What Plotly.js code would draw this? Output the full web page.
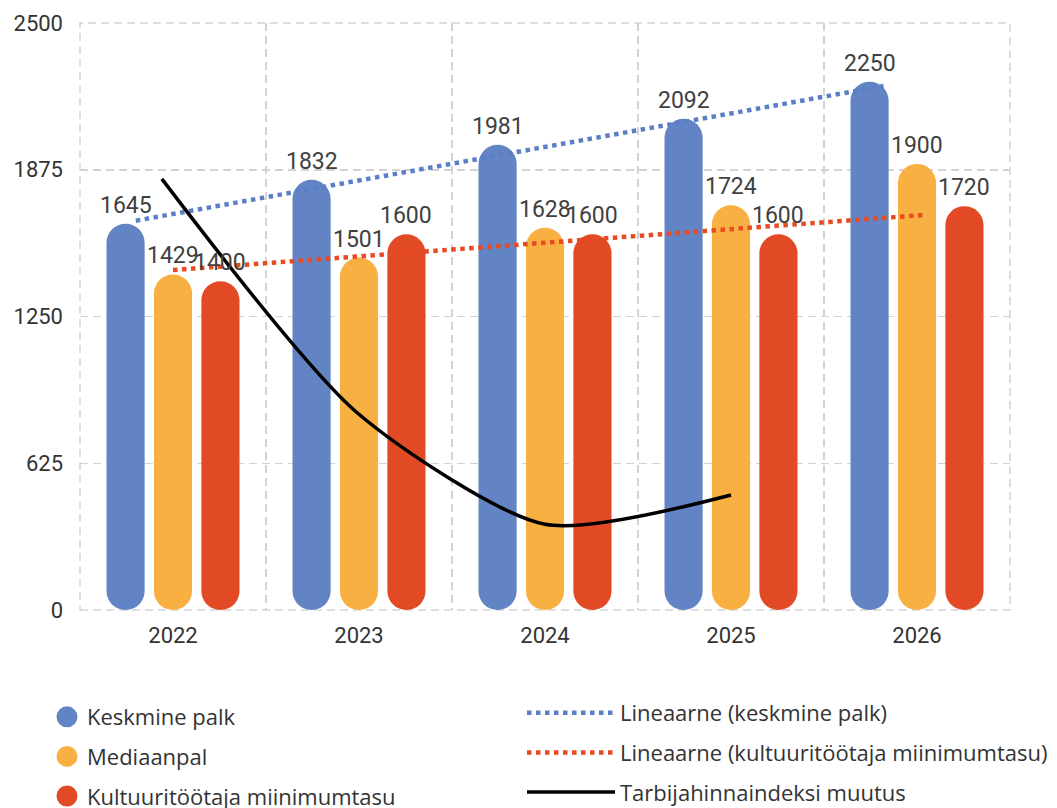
<!DOCTYPE html>
<html>
<head>
<meta charset="utf-8">
<script src="https://cdn.plot.ly/plotly-3.0.1.min.js"></script>
<style>html,body{margin:0;padding:0;background:#fff;}#chart{width:1057px;height:808px;}</style>
</head>
<body>
<div id="chart"></div>
<script>
// ---- data ----
const years = ['2022', '2023', '2024', '2025', '2026'];
const keskmine = [1645, 1832, 1981, 2092, 2250];
const mediaan = [1429, 1501, 1628, 1724, 1900];
const kultuur = [1400, 1600, 1600, 1600, 1720];
// consumer price index change line (same scale)
const cpiPos = [-0.06, 0.99, 2.0, 3.0];
const cpi = [1836, 840, 365, 490];
// linear trend lines (end points)
const trendKPos = [-0.2, 3.82];
const trendK = [1658, 2232];
const trendRPos = [0.0, 4.03];
const trendR = [1448, 1682];
const yTicks = [0, 625, 1250, 1875, 2500];

// ---- style ----
const cBlue = '#6384C4', cYellow = '#F9B042', cRed = '#E24A26';
const barW = 0.205;
const centers = [-0.255, 0, 0.255];
const xIdx = years.map((_, i) => i);
const labelFont = {family: 'Roboto', size: 23, color: '#404040'};

const traces = [];
const annotations = [];
const series = [
  {name: 'Keskmine palk', vals: keskmine, color: cBlue, c: centers[0], g: 'k'},
  {name: 'Mediaanpal', vals: mediaan, color: cYellow, c: centers[1], g: 'm'},
  {name: 'Kultuuritöötaja miinimumtasu', vals: kultuur, color: cRed, c: centers[2], g: 'r'}
];
series.forEach(s => {
  // pill-shaped bar: explicit base makes Plotly round both ends
  traces.push({
    type: 'bar', x: xIdx, base: s.vals.map(() => 0), y: s.vals,
    width: barW, offset: s.c - barW / 2, marker: {color: s.color, cornerradius: '50%', line: {width: 0}},
    legendgroup: s.g, showlegend: false, hoverinfo: 'skip'
  });
  s.vals.forEach((v, i) => annotations.push({
    x: i + s.c, y: v, xref: 'x', yref: 'y', text: String(v), showarrow: false,
    yanchor: 'bottom', xanchor: 'center', yshift: 3, font: labelFont
  }));
});

// legend entries for the bar series (circles)
series.forEach(s => traces.push({
  type: 'scatter', mode: 'markers', x: [null], y: [null], name: s.name, legendgroup: s.g,
  marker: {color: s.color, size: 16, symbol: 'circle', line: {color: s.color, width: 5}},
  legend: 'legend'
}));

traces.push({
  type: 'scatter', mode: 'lines', x: trendKPos, y: trendK, name: 'Lineaarne (keskmine palk)',
  line: {color: '#5B7FC7', width: 4.5, dash: 'dot'}, legend: 'legend2', legendgroup: 'tk', hoverinfo: 'skip'
});
traces.push({
  type: 'scatter', mode: 'lines', x: trendRPos, y: trendR, name: 'Lineaarne (kultuuritöötaja miinimumtasu)',
  line: {color: '#E84A22', width: 4.5, dash: 'dot'}, legend: 'legend2', legendgroup: 'tr', hoverinfo: 'skip'
});
traces.push({
  type: 'scatter', mode: 'lines', x: cpiPos, y: cpi, name: 'Tarbijahinnaindeksi muutus',
  line: {color: '#000000', width: 3.5, shape: 'spline', smoothing: 0.7}, legend: 'legend2', legendgroup: 'cpi', hoverinfo: 'skip'
});

const gridC = '#d3d3d3';
const legFont = {family: '"Open Sans"', size: 22, color: '#333333'};
const layout = {
  width: 1057, height: 808,
  margin: {l: 80, r: 47, t: 23, b: 198, autoexpand: false},
  paper_bgcolor: '#ffffff', plot_bgcolor: '#ffffff',
  barmode: 'overlay',
  showlegend: true,
  font: {family: 'Roboto', color: '#333333'},
  xaxis: {
    range: [-0.5, 4.5], tickmode: 'array', tickvals: xIdx, ticktext: years,
    showgrid: false, zeroline: false, showline: false, ticks: '',
    tickfont: {family: 'Roboto', size: 22, color: '#333333'},
    ticklabelstandoff: 10,
    minor: {tickmode: 'array', tickvals: [0.5, 1.5, 2.5, 3.5], showgrid: true,
            gridcolor: gridC, griddash: '8px,5px', gridwidth: 1.5, ticks: ''}
  },
  yaxis: {
    range: [0, 2500], tickmode: 'array', tickvals: yTicks, ticktext: yTicks.map(String),
    showgrid: true, gridcolor: gridC, griddash: '8px,5px', gridwidth: 1.5,
    zeroline: false, showline: false, ticks: '',
    tickfont: {family: 'Roboto', size: 22, color: '#333333'},
    ticklabelstandoff: 16
  },
  shapes: [{
    type: 'rect', xref: 'paper', yref: 'paper', x0: 0, x1: 1, y0: 0, y1: 1,
    line: {color: gridC, width: 1.5, dash: '8px,5px'}, fillcolor: 'rgba(0,0,0,0)', layer: 'below'
  }],
  legend: {
    x: 47 / 1057, y: 1 - 696 / 808, xref: 'container', yref: 'container',
    xanchor: 'left', yanchor: 'top', orientation: 'v',
    font: legFont, tracegroupgap: 8, itemwidth: 30, bgcolor: 'rgba(0,0,0,0)', traceorder: 'grouped'
  },
  legend2: {
    x: 522 / 1057, y: 1 - 692 / 808, xref: 'container', yref: 'container',
    xanchor: 'left', yanchor: 'top', orientation: 'v',
    font: legFont, tracegroupgap: 8, itemwidth: 88, bgcolor: 'rgba(0,0,0,0)', traceorder: 'grouped'
  },
  annotations: annotations
};

Plotly.newPlot('chart', traces, layout, {displayModeBar: false, staticPlot: true});
</script>
</body>
</html>
